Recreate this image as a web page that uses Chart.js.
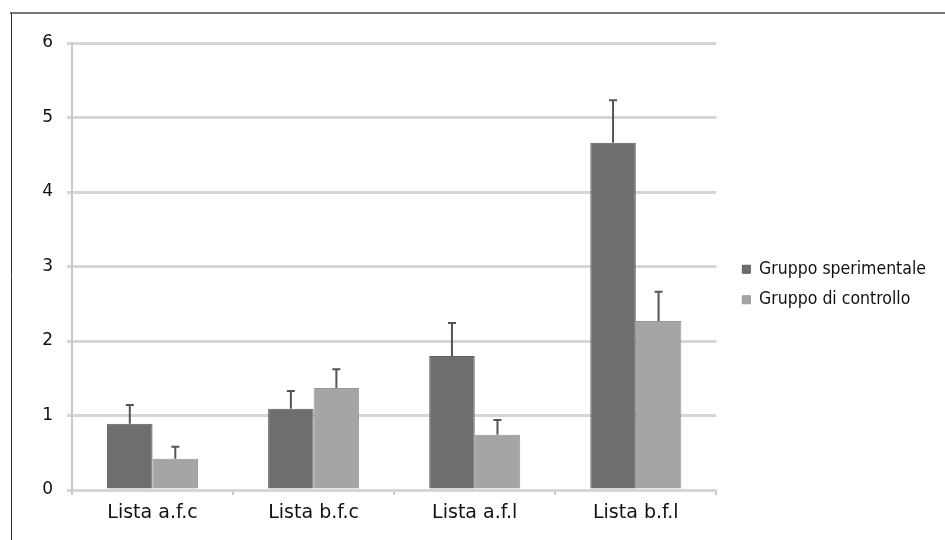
<!DOCTYPE html>
<html>
<head>
<meta charset="utf-8">
<script src="https://cdn.jsdelivr.net/npm/chart.js@4.4.1/dist/chart.umd.min.js"></script>
<style>
  html, body { margin: 0; padding: 0; background: #fff; }
  #wrap { width: 945px; height: 540px; }
</style>
</head>
<body>
<div id="wrap"><canvas id="chart" width="945" height="540"></canvas></div>
<script>
// data
const categories = ["Lista a.f.c", "Lista b.f.c", "Lista a.f.l", "Lista b.f.l"];
const sperimentale = [0.89, 1.09, 1.80, 4.66];
const sperimentaleErr = [0.25, 0.24, 0.44, 0.57];
const controllo = [0.42, 1.37, 0.74, 2.27];
const controlloErr = [0.16, 0.25, 0.20, 0.39];
const yTicks = [0, 1, 2, 3, 4, 5, 6];

const errors = [sperimentaleErr, controlloErr];

// upper error bars drawn on top of the bars
const errorBars = {
    id: "errorBars",
    afterDatasetsDraw(chart) {
        const ctx = chart.ctx;
        const y = chart.scales.y;
        ctx.save();
        ctx.strokeStyle = "#555";
        ctx.lineWidth = 2;
        chart.data.datasets.forEach(function (ds, i) {
            const meta = chart.getDatasetMeta(i);
            meta.data.forEach(function (bar, j) {
                const top = y.getPixelForValue(ds.data[j] + errors[i][j]);
                ctx.beginPath();
                ctx.moveTo(bar.x, bar.y);
                ctx.lineTo(bar.x, top);
                ctx.moveTo(bar.x - 4, top);
                ctx.lineTo(bar.x + 4, top);
                ctx.stroke();
            });
        });
        ctx.restore();
    }
};

// thin frame at the top and left of the picture
const frame = {
    id: "frame",
    beforeDraw(chart) {
        const ctx = chart.ctx;
        ctx.save();
        ctx.strokeStyle = "#777";
        ctx.lineWidth = 2;
        ctx.beginPath();
        ctx.moveTo(10, 13);
        ctx.lineTo(945, 13);
        ctx.stroke();
        ctx.strokeStyle = "#333";
        ctx.lineWidth = 1;
        ctx.beginPath();
        ctx.moveTo(11.5, 13);
        ctx.lineTo(11.5, 540);
        ctx.stroke();
        ctx.restore();
    }
};

// leave a wider gap between the plot and the legend entries
const legendGap = {
    id: "legendGap",
    afterLayout(chart) {
        chart.legend.left += 13;
        chart.legend.right += 13;
        chart.legend.top -= 7;
        chart.legend.bottom -= 7;
    }
};

new Chart(document.getElementById("chart"), {
    type: "bar",
    data: {
        labels: categories,
        datasets: [
            {
                label: "Gruppo sperimentale",
                data: sperimentale,
                backgroundColor: "#6e6e6e",
                borderColor: "#5e5e5e",
                borderWidth: 1,
            },
            {
                label: "Gruppo di controllo",
                data: controllo,
                backgroundColor: "#a5a5a5",
                borderColor: "#969696",
                borderWidth: 1,
            },
        ],
    },
    options: {
        responsive: false,
        animation: false,
        layout: { padding: { top: 43, left: 20, right: 22, bottom: 0 } },
        datasets: { bar: { categoryPercentage: 0.565, barPercentage: 1 } },
        plugins: {
            tooltip: { enabled: false },
            legend: {
                position: "right",
                labels: {
                    boxWidth: 8,
                    boxHeight: 8,
                    padding: 13,
                    color: "#111",
                    font: { family: "'DejaVu Sans Condensed', 'DejaVu Sans'", size: 17.5 },
                },
            },
        },
        scales: {
            x: {
                grid: { display: true, drawOnChartArea: false, offset: true, tickLength: 5, color: "#c8c8c8", lineWidth: 2 },
                border: { display: false },
                ticks: { color: "#111", padding: 7, font: { family: "'DejaVu Sans'", size: 19 } },
                afterFit(scale) { scale.height = 50; },
            },
            y: {
                min: 0,
                max: 6,
                afterBuildTicks(scale) { scale.ticks = yTicks.map(function (v) { return { value: v }; }); },
                grid: { color: "#d6d6d6", lineWidth: 3, tickLength: 5 },
                border: { display: true, color: "#c8c8c8", width: 2 },
                ticks: { color: "#111", padding: 14, font: { family: "'DejaVu Sans'", size: 17 } },
                afterFit(scale) { scale.width = 52; },
            },
        },
    },
    plugins: [errorBars, frame, legendGap],
});
</script>
</body>
</html>
